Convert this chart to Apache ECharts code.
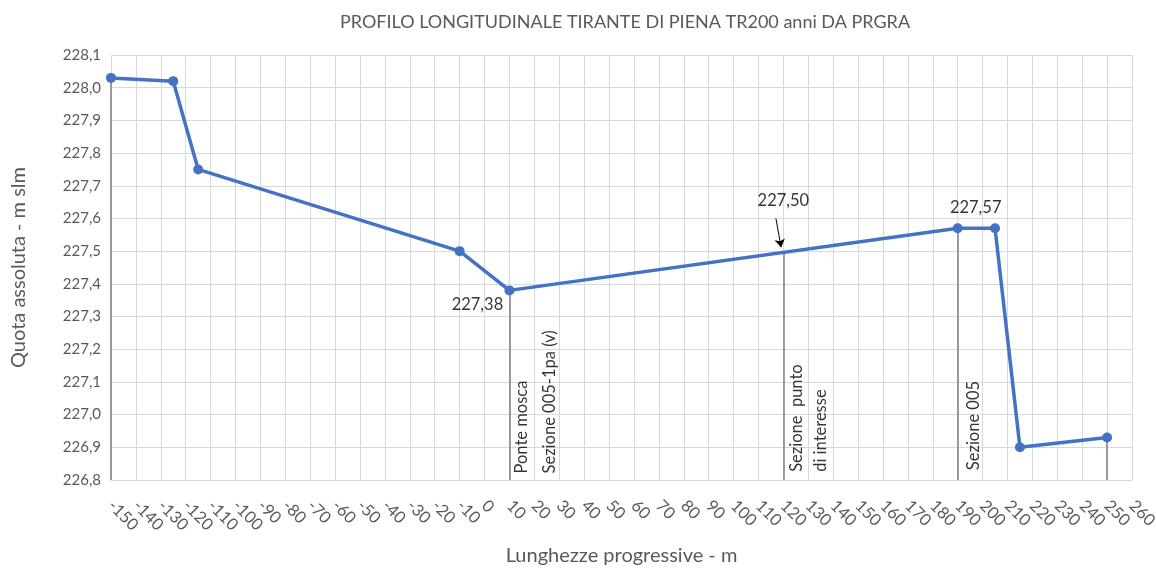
<!DOCTYPE html>
<html>
<head>
<meta charset="utf-8">
<script src="https://cdn.jsdelivr.net/npm/echarts@6/dist/echarts.min.js"></script>
<style>
html,body{margin:0;padding:0;background:#fff;}
#c{width:1156px;height:570px;}
</style>
</head>
<body>
<div id="c"></div>
<script>
// ---- data ----
var profX = [-150, -125, -115, -10, 10, 190, 205, 215, 250];
var profY = [228.03, 228.02, 227.75, 227.50, 227.38, 227.57, 227.57, 226.90, 226.93];
var dropX = [-150, 10, 120, 190, 250];
var dropY = [228.03, 227.38, 227.50, 227.57, 226.93];
var annX = [10, 120, 190];
var annY = [227.38, 227.50, 227.57];
var arrowFrom = [117.0, 227.60];
var arrowTo = [119.1, 227.512];
var vtText = ['Ponte mosca', 'Sezione 005-1pa (v)', 'Sezione  punto', 'di interesse', 'Sezione 005'];
var vtX = [15, 26, 125.5, 134.8, 196.5];
var vtY = [226.82, 226.82, 226.825, 226.825, 226.83];
var xMin = -150, xMax = 260, xStep = 10;
var yMin = 226.8, yMax = 228.1, yStep = 0.1;

var FONT = 'Lato';
var fmt = function (v) { return v.toFixed(2).replace('.', ','); };
var annOffsets = [[-32, 14], [0, -50], [18, -21]];

var chart = echarts.init(document.getElementById('c'));
chart.setOption({
  animation: false,
  backgroundColor: '#ffffff',
  title: {
    text: 'PROFILO LONGITUDINALE TIRANTE DI PIENA TR200 anni DA PRGRA',
    left: 620, top: 8, textAlign: 'center',
    textStyle: { fontFamily: FONT, fontSize: 18, fontWeight: 'normal', color: '#595959' }
  },
  grid: { left: 111, right: 24, top: 55, bottom: 90, outerBoundsMode: 'none', containLabel: false },
  xAxis: {
    type: 'value', min: xMin, max: xMax, interval: xStep,
    name: 'Lunghezze progressive - m', nameLocation: 'middle', nameGap: 66,
    nameTextStyle: { fontFamily: FONT, fontSize: 20, color: '#595959' },
    axisLine: { show: true, lineStyle: { color: '#d9d9d9', width: 1 } },
    axisTick: { show: false },
    axisLabel: { rotate: -45, margin: 23, fontFamily: FONT, fontSize: 16.5, color: '#595959' },
    splitLine: { show: true, lineStyle: { color: '#d9d9d9', width: 1 } }
  },
  yAxis: {
    type: 'value', min: yMin, max: yMax, interval: yStep,
    name: 'Quota assoluta - m slm', nameLocation: 'middle', nameGap: 82,
    nameTextStyle: { fontFamily: FONT, fontSize: 20, color: '#595959' },
    axisLine: { show: true, lineStyle: { color: '#d9d9d9', width: 1 } },
    axisTick: { show: false },
    axisLabel: {
      margin: 10, fontFamily: FONT, fontSize: 15, color: '#595959',
      formatter: function (v) { return v.toFixed(1).replace('.', ','); }
    },
    splitLine: { show: true, lineStyle: { color: '#d9d9d9', width: 1 } }
  },
  series: [
    {
      type: 'lines', coordinateSystem: 'cartesian2d', z: 2, silent: true,
      lineStyle: { color: '#7f7f7f', width: 1.5, opacity: 1 },
      data: dropX.map(function (x, i) { return { coords: [[x, yMin], [x, dropY[i]]] }; })
    },
    {
      type: 'line', z: 3,
      data: profX.map(function (x, i) { return [x, profY[i]]; }),
      lineStyle: { color: '#4472C4', width: 3.5 },
      itemStyle: { color: '#4472C4' },
      symbol: 'circle', symbolSize: 10, showSymbol: true
    },
    {
      type: 'lines', coordinateSystem: 'cartesian2d', z: 4, silent: true,
      symbol: ['none', 'arrow'], symbolSize: 8,
      lineStyle: { color: '#000000', width: 1, opacity: 1 },
      data: [{ coords: [arrowFrom, arrowTo] }]
    },
    {
      type: 'scatter', z: 5, symbolSize: 0, silent: true,
      data: annX.map(function (x, i) {
        return {
          value: [x, annY[i]],
          label: { offset: annOffsets[i] }
        };
      }),
      label: {
        show: true, position: 'inside', align: 'center', verticalAlign: 'middle',
        fontFamily: FONT, fontSize: 16.5, color: '#000000',
        formatter: function (p) { return fmt(p.value[1]); }
      }
    },
    {
      type: 'scatter', z: 5, symbolSize: 0, silent: true,
      data: vtX.map(function (x, i) { return { value: [x, vtY[i]], name: vtText[i] }; }),
      label: {
        show: true, position: [0, 0], rotate: 90, align: 'left', verticalAlign: 'middle',
        fontFamily: FONT, fontSize: 16.5, color: '#000000',
        formatter: function (p) { return p.name; }
      }
    }
  ]
});
</script>
</body>
</html>
